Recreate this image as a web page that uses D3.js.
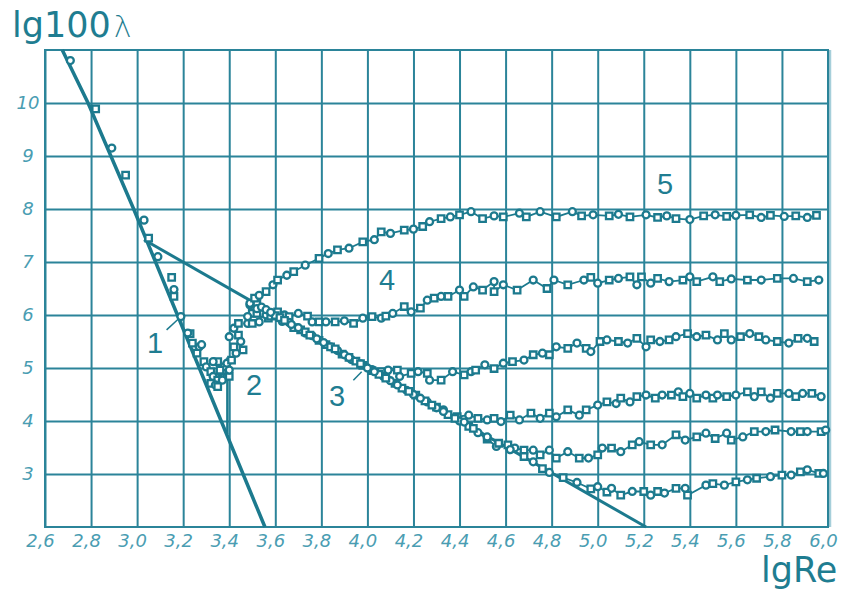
<!DOCTYPE html>
<html lang="ru">
<head>
<meta charset="UTF-8">
<title>lg100λ – lgRe</title>
<script src="https://cdn.jsdelivr.net/npm/d3@7/dist/d3.min.js"></script>
<style>
    body {
        margin: 0;
        background: #ffffff;
    }
    .grid line {
        stroke: #2b8499;
        stroke-width: 2;
    }
    .grid path {
        display: none;
    }
    .grid text {
        font-family: "DejaVu Sans", sans-serif;
        font-style: italic;
        font-size: 18px;
        fill: #4a9db2;
    }
    .axis-title {
        font-family: "DejaVu Sans", sans-serif;
        font-size: 35px;
        fill: #1f7d91;
    }
    .regime {
        font-family: "Liberation Sans", Arial, sans-serif;
        font-size: 29px;
        fill: #1f7d91;
    }
</style>
</head>
<body>
<div id="chart"></div>

<script>

// tick labels
const xTicks = [2.6, 2.8, 3.0, 3.2, 3.4, 3.6, 3.8, 4.0, 4.2, 4.4, 4.6, 4.8, 5.0, 5.2, 5.4, 5.6, 5.8, 6.0];
const yTicks = [3, 4, 5, 6, 7, 8, 9, 10];

// theoretical lines (lgRe, lg100λ)
const laminarLine = [[2.675, 11], [2.787, 10], [2.985, 8.0], [3.175, 6.0], [3.555, 2.0]];
const blasiusLine = [[3.03, 7.42], [5.21, 2.0]];
const transitionLine = [[3.392, 3.75], [3.392, 5.2]];

// experimental points
const laminarPts = [[2.71,10.80],[2.82,9.89],[2.89,9.15],[2.95,8.64],[3.03,7.79],[3.05,7.45],[3.09,7.10],[3.15,6.71],[3.16,6.48],[3.16,6.35],[3.19,5.97],[3.23,5.65]];

const transitionPts = [[3.22,5.66],[3.24,5.47],[3.27,5.40],[3.26,5.28],[3.28,5.44],[3.29,5.12],[3.30,5.02],[3.32,4.93],[3.33,4.84],[3.35,4.77],[3.36,4.93],[3.38,5.02],[3.39,4.84],[3.35,5.12],[3.33,5.12],[3.32,4.71],[3.34,4.68],[3.35,4.65],[3.37,4.77],[3.36,4.96],[3.39,5.09],
    [3.40,4.84],[3.40,4.96],[3.41,5.15],[3.43,5.28],[3.42,5.40],[3.40,5.59],[3.44,5.62],[3.45,5.50],[3.46,5.34],[3.42,5.75],[3.44,5.84],[3.48,5.84],[3.50,5.84],[3.53,5.87],[3.50,6.03],[3.49,6.19],[3.52,6.22],[3.54,6.03],[3.57,5.94]];

const series1 = [[3.49,6.22],[3.51,6.32],[3.53,6.37],[3.56,6.44],[3.59,6.57],[3.61,6.66],[3.65,6.75],[3.68,6.82],[3.73,6.94],[3.79,7.07],[3.83,7.16],[3.87,7.23],[3.92,7.26],[3.98,7.38],[4.03,7.42],[4.06,7.57],[4.10,7.54],[4.16,7.60],[4.20,7.62],[4.24,7.67],[4.27,7.76],[4.32,7.82],[4.36,7.85],[4.40,7.89],[4.45,7.95],[4.50,7.82],[4.55,7.87],[4.59,7.85],[4.66,7.92],[4.69,7.85],[4.75,7.95],[4.82,7.85],[4.89,7.95],[4.93,7.87],[4.98,7.89],[5.05,7.87],[5.09,7.90],[5.14,7.85],[5.21,7.89],[5.26,7.84],[5.30,7.87],[5.34,7.82],[5.40,7.80],[5.46,7.87],[5.51,7.89],[5.56,7.86],[5.60,7.88],[5.66,7.89],[5.71,7.84],[5.75,7.88],[5.81,7.86],[5.86,7.87],[5.91,7.84],[5.95,7.88]];

const series2 = [[3.48,5.97],[3.52,6.03],[3.56,6.00],[3.61,6.06],[3.64,6.00],[3.66,5.97],[3.70,6.03],[3.74,5.98],[3.76,5.87],[3.79,5.87],[3.82,5.87],[3.86,5.87],[3.90,5.89],[3.94,5.84],[3.98,5.94],[4.02,5.97],[4.06,5.94],[4.08,5.98],[4.11,6.03],[4.16,6.16],[4.19,6.06],[4.23,6.13],[4.26,6.28],[4.29,6.32],[4.32,6.35],[4.35,6.35],[4.40,6.47],[4.42,6.35],[4.46,6.53],[4.50,6.47],[4.55,6.63],[4.55,6.44],[4.59,6.57],[4.65,6.47],[4.72,6.66],[4.78,6.50],[4.81,6.66],[4.87,6.57],[4.94,6.66],[4.97,6.71],[5.00,6.60],[5.05,6.66],[5.09,6.69],[5.14,6.72],[5.17,6.57],[5.19,6.72],[5.23,6.60],[5.26,6.69],[5.31,6.63],[5.37,6.66],[5.40,6.72],[5.43,6.63],[5.50,6.72],[5.53,6.63],[5.58,6.68],[5.65,6.66],[5.71,6.66],[5.78,6.69],[5.85,6.69],[5.91,6.63],[5.96,6.66]];

const series3 = [[3.52,6.12],[3.58,5.98],[3.63,5.88],[3.68,5.76],[3.73,5.66],[3.79,5.52],[3.84,5.40],[3.89,5.26],[3.93,5.16],[3.98,5.05],[4.02,4.97],[4.06,4.93],[4.09,4.96],[4.13,4.96],[4.14,4.84],[4.19,4.90],[4.22,4.93],[4.26,4.90],[4.27,4.77],[4.32,4.77],[4.37,4.93],[4.42,4.87],[4.45,4.93],[4.47,4.96],[4.51,5.06],[4.55,4.99],[4.59,5.09],[4.63,5.12],[4.68,5.15],[4.72,5.25],[4.76,5.28],[4.79,5.25],[4.82,5.40],[4.87,5.37],[4.91,5.47],[4.95,5.37],[4.97,5.31],[5.01,5.50],[5.04,5.53],[5.09,5.50],[5.13,5.47],[5.17,5.56],[5.21,5.40],[5.23,5.53],[5.27,5.50],[5.31,5.53],[5.34,5.59],[5.39,5.65],[5.43,5.59],[5.47,5.62],[5.52,5.53],[5.55,5.65],[5.58,5.53],[5.62,5.59],[5.66,5.65],[5.70,5.59],[5.73,5.53],[5.78,5.50],[5.83,5.47],[5.87,5.56],[5.91,5.56],[5.94,5.50]];

const series4 = [[3.54,6.15],[3.60,5.99],[3.66,5.86],[3.71,5.72],[3.76,5.61],[3.82,5.44],[3.87,5.33],[3.92,5.20],[3.97,5.08],[4.02,4.95],[4.07,4.84],[4.12,4.71],[4.17,4.58],[4.21,4.49],[4.26,4.36],[4.30,4.26],[4.33,4.21],[4.39,4.08],[4.44,4.11],[4.48,4.05],[4.52,4.02],[4.55,4.05],[4.58,3.99],[4.62,4.11],[4.66,4.02],[4.71,4.15],[4.75,4.05],[4.79,4.15],[4.82,4.08],[4.87,4.21],[4.92,4.11],[4.95,4.21],[5.00,4.30],[5.04,4.36],[5.08,4.33],[5.10,4.43],[5.14,4.36],[5.17,4.46],[5.21,4.49],[5.25,4.43],[5.28,4.49],[5.32,4.49],[5.35,4.55],[5.37,4.46],[5.40,4.52],[5.43,4.43],[5.47,4.49],[5.50,4.43],[5.52,4.49],[5.56,4.46],[5.60,4.49],[5.65,4.55],[5.68,4.46],[5.71,4.55],[5.75,4.43],[5.78,4.52],[5.83,4.52],[5.86,4.46],[5.89,4.52],[5.93,4.52],[5.97,4.46]];

const series5 = [[3.56,6.10],[3.62,5.95],[3.67,5.82],[3.73,5.68],[3.78,5.55],[3.84,5.40],[3.90,5.25],[3.95,5.13],[4.00,5.00],[4.05,4.88],[4.10,4.76],[4.15,4.62],[4.20,4.50],[4.25,4.38],[4.30,4.25],[4.35,4.12],[4.40,4.00],[4.44,3.90],[4.48,3.78],[4.52,3.66],[4.56,3.52],[4.61,3.55],[4.64,3.49],[4.68,3.45],[4.72,3.45],[4.75,3.36],[4.79,3.45],[4.82,3.30],[4.87,3.42],[4.92,3.30],[4.96,3.30],[5.00,3.36],[5.02,3.49],[5.06,3.49],[5.10,3.42],[5.15,3.55],[5.18,3.61],[5.23,3.55],[5.28,3.55],[5.34,3.74],[5.38,3.64],[5.43,3.70],[5.47,3.77],[5.51,3.67],[5.56,3.77],[5.58,3.64],[5.63,3.70],[5.68,3.80],[5.73,3.80],[5.77,3.83],[5.84,3.80],[5.88,3.80],[5.91,3.80],[5.97,3.80],[5.99,3.83]];

const series6 = [[3.58,6.05],[3.64,5.90],[3.70,5.76],[3.75,5.62],[3.81,5.48],[3.86,5.36],[3.92,5.20],[3.97,5.08],[4.03,4.93],[4.08,4.81],[4.13,4.68],[4.18,4.56],[4.23,4.43],[4.28,4.30],[4.33,4.18],[4.38,4.05],[4.42,3.98],[4.46,3.86],[4.52,3.70],[4.57,3.58],[4.62,3.46],[4.68,3.33],[4.72,3.23],[4.76,3.10],[4.79,3.03],[4.85,2.93],[4.91,2.84],[4.97,2.72],[5.00,2.76],[5.04,2.66],[5.06,2.73],[5.10,2.60],[5.15,2.67],[5.20,2.67],[5.23,2.60],[5.26,2.67],[5.29,2.64],[5.34,2.73],[5.38,2.73],[5.39,2.60],[5.47,2.79],[5.50,2.82],[5.55,2.79],[5.60,2.85],[5.65,2.89],[5.69,2.92],[5.75,2.95],[5.80,2.98],[5.84,2.98],[5.88,3.04],[5.91,3.08],[5.96,3.01],[5.98,3.01]];

// regime numbers and their anchors
const regimeText = ["1", "2", "3", "4", "5"];
const regimeX = [3.078, 3.508, 3.868, 4.085, 5.292];
const regimeY = [5.28, 4.49, 4.28, 6.47, 8.28];
const leaders = [[[3.128, 5.72], [3.178, 5.92]], [[3.939, 4.77], [3.975, 4.93]]];

const color = "#1c7a8e";
const width = 843, height = 590;
const plot = { left: 45, right: 828, top: 50, bottom: 527 };

const svg = d3.select("#chart")
    .append("svg")
    .attr("width", width)
    .attr("height", height);

const x = d3.scaleLinear().domain([2.6, 6.0]).range([plot.left, plot.right]);
const y = d3.scaleLinear().domain([2, 11]).range([plot.bottom, plot.top]);

const comma = d => d3.format(".1f")(d).replace(".", ",");

// vertical grid + x labels
svg.append("g")
    .attr("class", "grid")
    .attr("transform", `translate(0,${plot.bottom})`)
    .call(d3.axisBottom(x).tickValues(xTicks).tickSize(-(plot.bottom - plot.top)).tickFormat(comma))
    .selectAll("text")
        .attr("x", -5)
        .attr("y", 20)
        .attr("dy", null);

// horizontal grid + y labels
svg.append("g")
    .attr("class", "grid")
    .attr("transform", `translate(${plot.left},0)`)
    .call(d3.axisLeft(y).tickValues(yTicks).tickSize(-(plot.right - plot.left)).tickFormat(d3.format("d")))
    .selectAll("text")
        .attr("x", -17)
        .attr("text-anchor", "middle");

svg.append("rect")
    .attr("x", plot.left)
    .attr("y", plot.top)
    .attr("width", plot.right - plot.left)
    .attr("height", plot.bottom - plot.top)
    .attr("fill", "none")
    .attr("stroke", "#2b8499")
    .attr("stroke-width", 2);

svg.append("line")
    .attr("x1", plot.right + 2.5).attr("x2", plot.right + 2.5)
    .attr("y1", plot.top).attr("y2", plot.bottom)
    .attr("stroke", "#a6cfda")
    .attr("stroke-width", 1.5);

const line = d3.line().x(d => x(d[0])).y(d => y(d[1]));

svg.append("path").datum(laminarLine)
    .attr("d", line).attr("fill", "none")
    .attr("stroke", color).attr("stroke-width", 3.5);

svg.append("path").datum(blasiusLine)
    .attr("d", line).attr("fill", "none")
    .attr("stroke", color).attr("stroke-width", 3);

svg.append("path").datum(transitionLine)
    .attr("d", line).attr("fill", "none")
    .attr("stroke", color).attr("stroke-width", 2.5);

leaders.forEach(l => {
    svg.append("path").datum(l)
        .attr("d", line).attr("fill", "none")
        .attr("stroke", color).attr("stroke-width", 1.5);
});

const allSeries = [series1, series2, series3, series4, series5, series6];

allSeries.forEach(s => {
    svg.append("path").datum(s)
        .attr("d", line).attr("fill", "none")
        .attr("stroke", color).attr("stroke-width", 1.8);
});

const circle = d3.symbol().type(d3.symbolCircle).size(38);
const square = d3.symbol().type(d3.symbolSquare).size(42);

[laminarPts, transitionPts, ...allSeries].forEach(s => {
    svg.append("g")
        .selectAll("path")
        .data(s)
        .join("path")
        .attr("transform", d => `translate(${x(d[0])},${y(d[1])})`)
        .attr("d", (d, i) => i % 2 ? square() : circle())
        .attr("fill", "#fff")
        .attr("stroke", color)
        .attr("stroke-width", 2.3);
});

svg.append("g")
    .selectAll("text")
    .data(regimeText)
    .join("text")
    .attr("class", "regime")
    .attr("x", (d, i) => x(regimeX[i]))
    .attr("y", (d, i) => y(regimeY[i]))
    .attr("text-anchor", "middle")
    .text(d => d);

const title = svg.append("text")
    .attr("class", "axis-title")
    .attr("x", 12)
    .attr("y", 37);
title.append("tspan").text("lg100");
title.append("tspan")
    .attr("font-size", 30)
    .attr("font-weight", 200)
    .attr("dx", 3)
    .text("λ");

svg.append("text")
    .attr("class", "axis-title")
    .attr("x", 761)
    .attr("y", 582)
    .text("lgRe");
</script>
</body>
</html>
